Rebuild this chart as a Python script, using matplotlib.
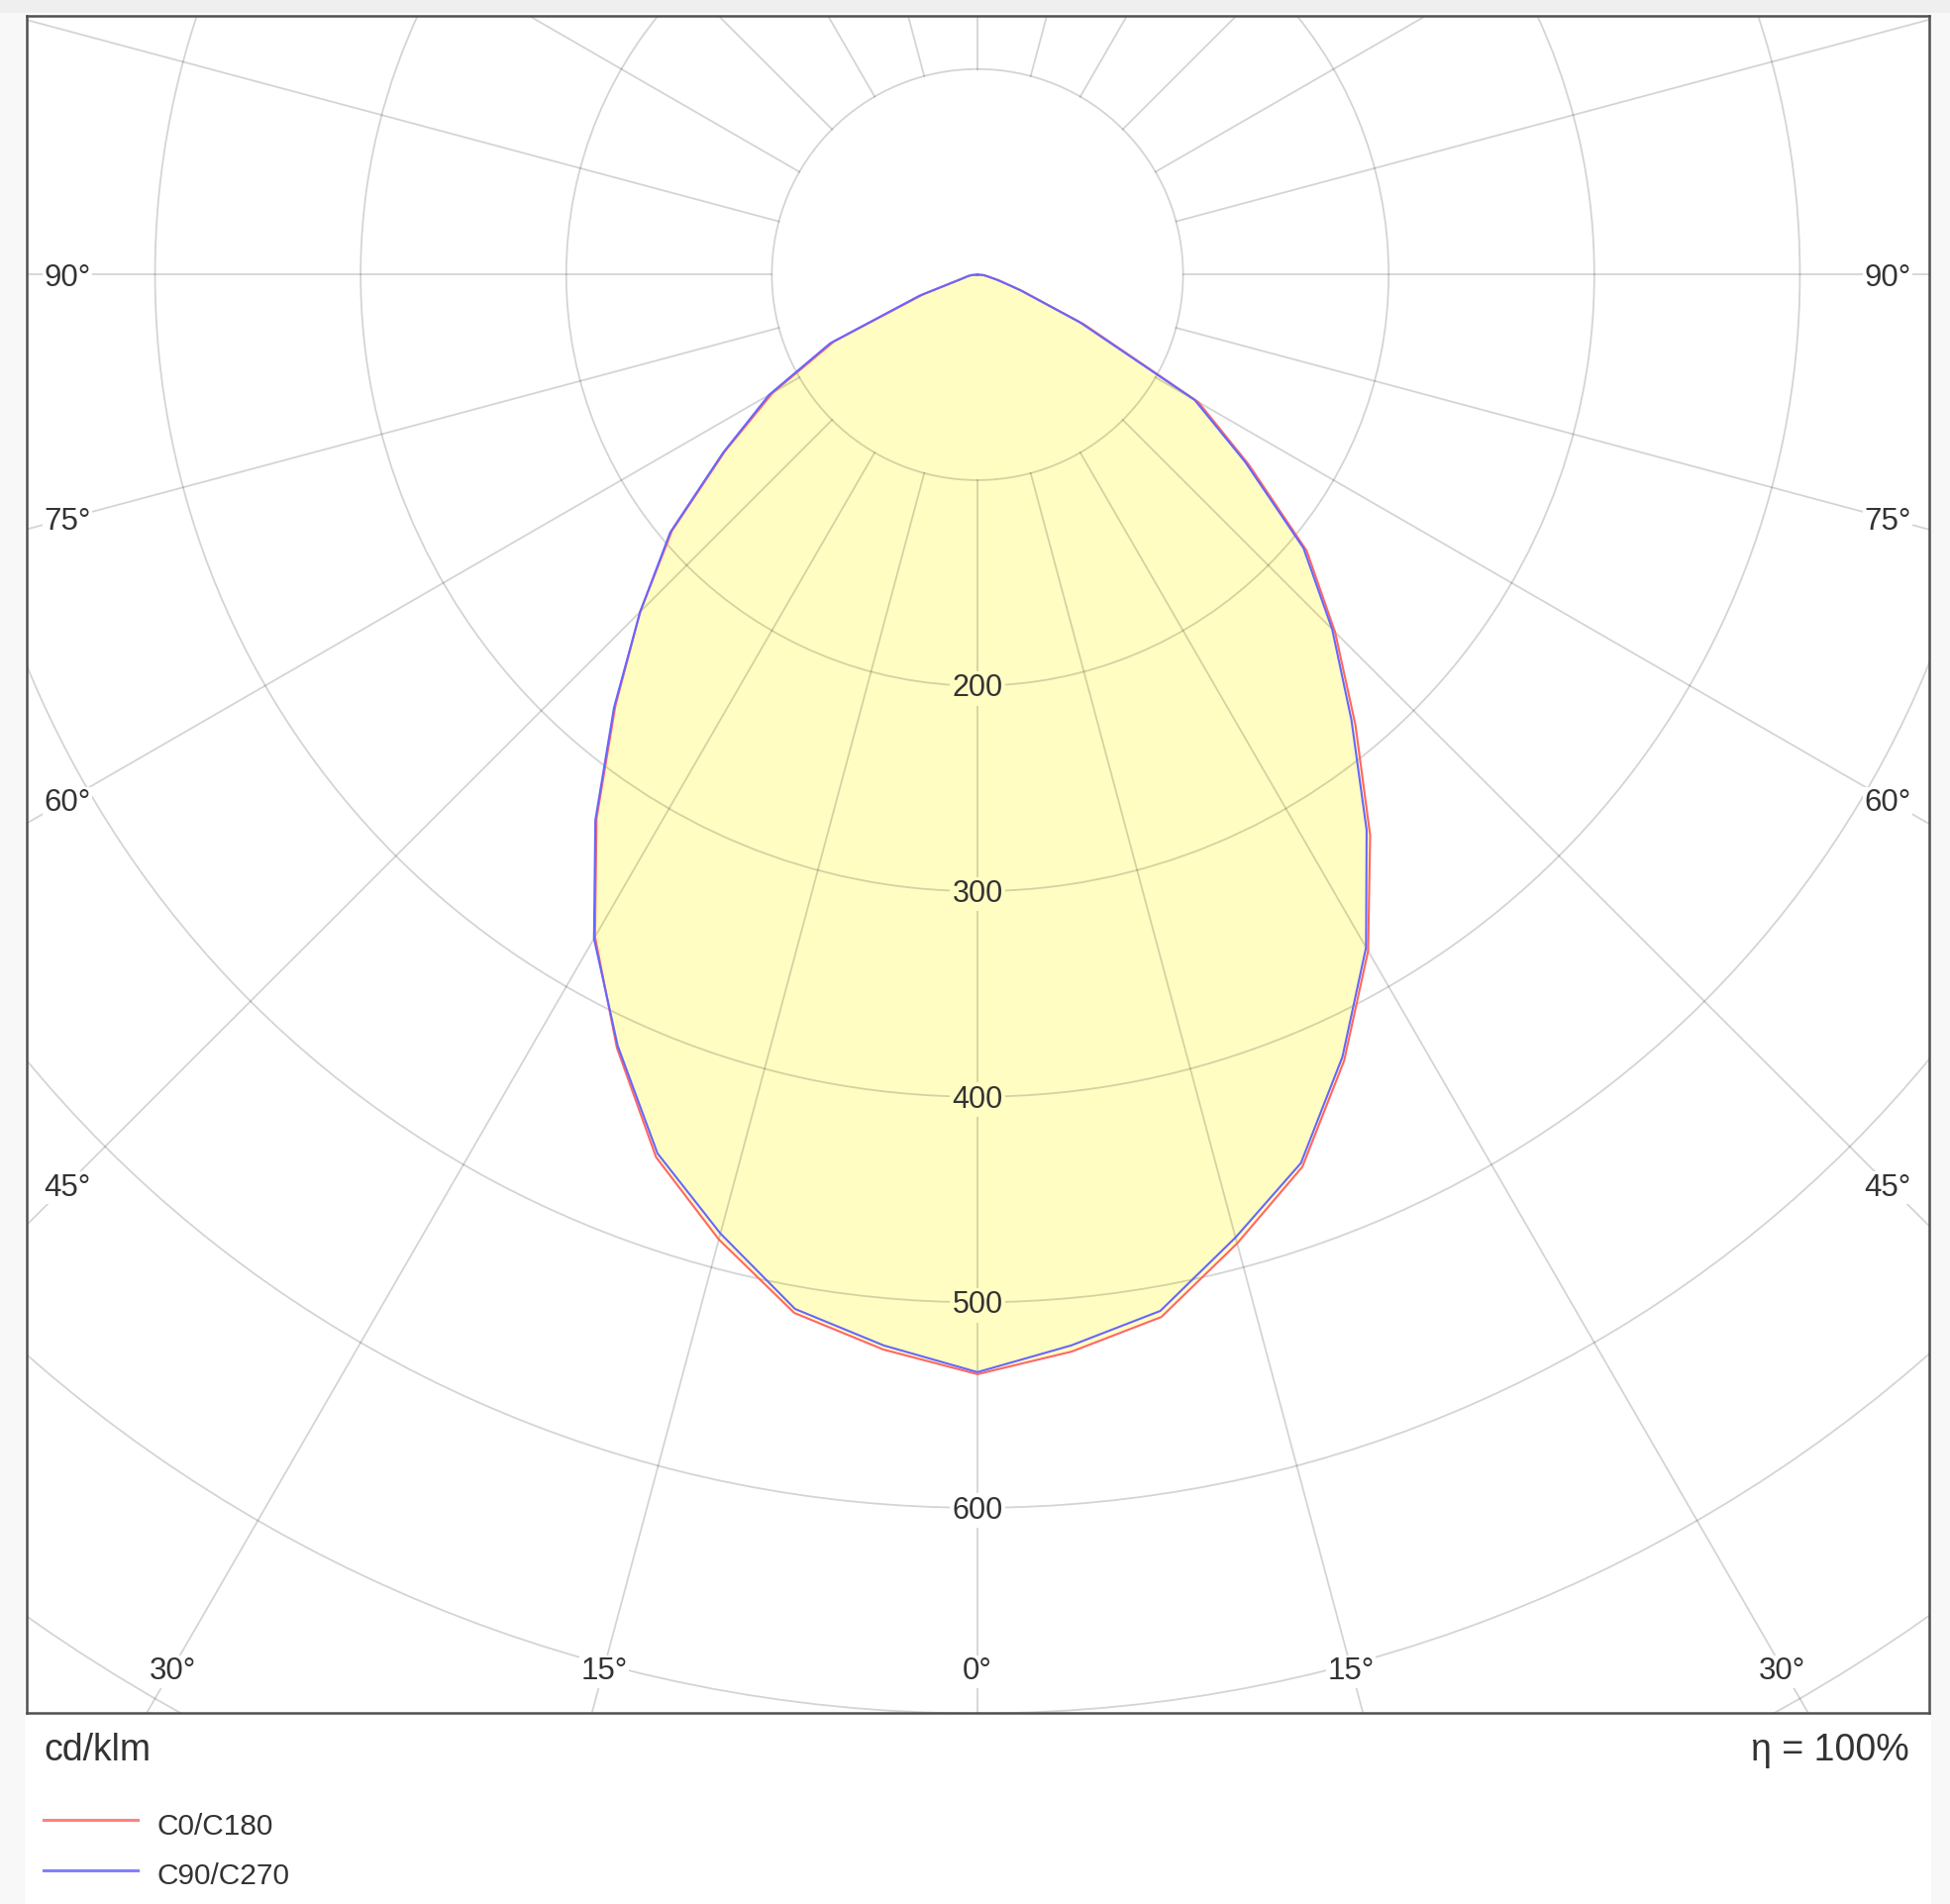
import numpy as np
import matplotlib.pyplot as plt
from matplotlib.patches import Circle, Rectangle
from matplotlib.lines import Line2D

plt.rcParams['font.family'] = ['Liberation Sans', 'DejaVu Sans']

# gamma angle (deg) and luminous intensity (cd/klm) per C-plane
gamma = [0, 5, 10, 15, 20, 25, 30, 35, 40, 45, 50, 55, 60, 65, 70, 75, 80, 85, 90]
c0 = [535, 526, 515, 488, 462, 422, 380, 333, 286, 246, 209, 161, 124, 57, 23, 11, 5, 3, 0]
c180 = [535, 525, 513, 486, 457, 415, 372, 323, 274, 232, 194, 150, 115, 77, 28, 8, 5, 3, 0]
c90 = [534, 523, 512, 485, 460, 420, 378, 330, 283, 244, 207, 159, 122, 55, 22, 10, 5, 3, 0]
c270 = [534, 523, 511, 483, 455, 414, 373, 324, 275, 232, 195, 151, 117, 79, 30, 8, 5, 3, 0]

rings = [100, 200, 300, 400, 500, 600, 700, 800]
ring_labels = [200, 300, 400, 500, 600]
spokes = np.arange(0, 360, 15)
angle_labels = [0, 15, 30, 45, 60, 75, 90]

W, H = 1969, 1923
fig = plt.figure(figsize=(W / 100, H / 100), dpi=100, facecolor='#f8f8f8')
fig.add_artist(Rectangle((25 / W, 0), (1950 - 25) / W, 1 - 13 / H, transform=fig.transFigure,
                         facecolor='white', edgecolor='none', zorder=-10))
fig.add_artist(Rectangle((0, 1 - 13 / H), 1, 13 / H, transform=fig.transFigure,
                         facecolor='#efefef', edgecolor='none', zorder=-10))

ax = fig.add_axes([27 / W, 1 - 1730 / H, (1948 - 27) / W, (1730 - 16) / H])
ax.set_xlim(-462.4, 462.9)
ax.set_ylim(-699.8, 125.9)
ax.set_xticks([])
ax.set_yticks([])
for s in ax.spines.values():
    s.set_linewidth(1.8)
    s.set_color('#505050')

g = np.radians(gamma)


def outline(left, right):
    left = np.array(left, float)
    right = np.array(right, float)
    x = np.concatenate([-left[::-1] * np.sin(g[::-1]), right * np.sin(g)])
    y = np.concatenate([-left[::-1] * np.cos(g[::-1]), -right * np.cos(g)])
    return x, y


x1, y1 = outline(c180, c0)
x2, y2 = outline(c270, c90)

ax.fill(x1, y1, color='#fffdc2', lw=0, zorder=1)

grid_kw = dict(color='black', alpha=0.17, lw=1.3, zorder=2)
for r in rings:
    ax.add_patch(Circle((0, 0), r, fill=False, **grid_kw))
for a in spokes:
    t = np.radians(a)
    ax.plot([100 * np.sin(t), 1000 * np.sin(t)], [-100 * np.cos(t), -1000 * np.cos(t)], **grid_kw)

ax.plot(x1, y1, color='#ff6666', lw=1.5, zorder=3)
ax.plot(x2, y2, color='#6666ff', lw=1.5, zorder=4)

txt = '#333333'
px = 2.076  # pixels per cd/klm
for r in ring_labels:
    fc = '#fffdc2' if r <= 500 else 'white'
    ax.text(0, -r - 10.9 / px, str(r), ha='center', va='baseline', fontsize=22, color=txt,
            zorder=5, bbox=dict(boxstyle='square,pad=0.08', fc=fc, ec='none'))

for a in angle_labels:
    t = np.radians(a)
    if 678.1 * np.tan(t) < 440:
        xs = [678.1 * np.tan(t)] if a == 0 else [-678.1 * np.tan(t), 678.1 * np.tan(t)]
        yc = -678.1
    else:
        xs = [-442.7, 442.7]
        yc = -442.7 / np.tan(t) if a < 90 else 0.0
    for xc in xs:
        ax.text(xc, yc - 11.2 / px, f'{a}°', ha='center', va='baseline', fontsize=22.5,
                color=txt, zorder=5, bbox=dict(boxstyle='square,pad=0.05', fc='white', ec='none'))

fig.text(44 / W, 1 - 1778 / H, 'cd/klm', fontsize=27, color=txt, ha='left', va='baseline')
fig.text(1928 / W, 1 - 1778 / H, 'η = 100%', fontsize=27, color=txt, ha='right', va='baseline')

legend_items = [('C0/C180', '#ff8080', 1838, 1853), ('C90/C270', '#8080ff', 1889, 1903)]
for name, col, ly, ty in legend_items:
    fig.add_artist(Line2D([44 / W, 139 / W], [1 - ly / H, 1 - ly / H], color=col, lw=2.2,
                          transform=fig.transFigure))
    fig.text(159 / W, 1 - ty / H, name, fontsize=21.5, color=txt, ha='left', va='baseline')

fig.savefig('out.png', dpi=100, facecolor=fig.get_facecolor())
